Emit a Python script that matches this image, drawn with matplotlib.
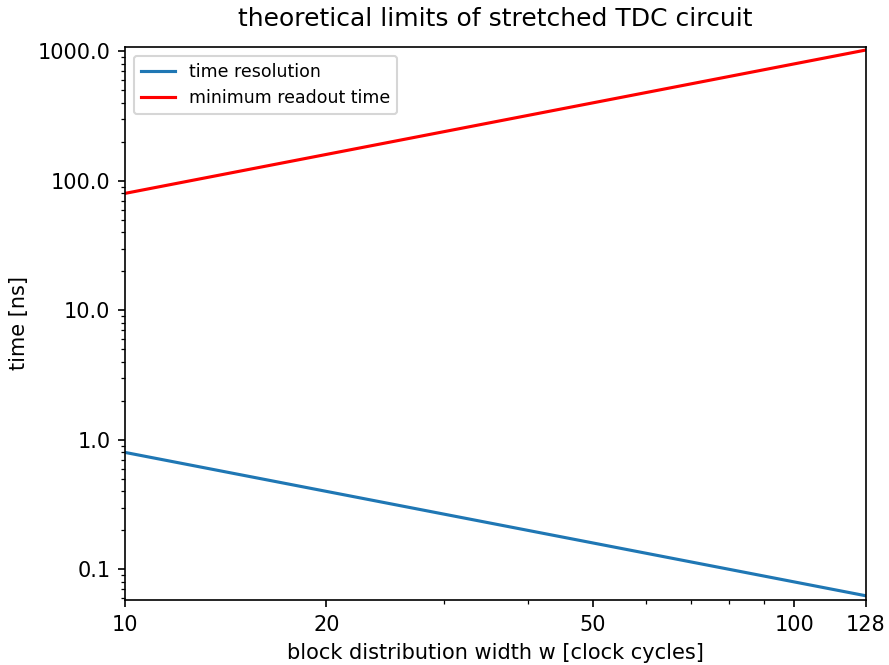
import matplotlib
matplotlib.use("Agg")
import matplotlib.pyplot as plt
from matplotlib.ticker import FixedLocator, FixedFormatter, FormatStrFormatter, NullFormatter

w = [10, 128]
time_resolution = [0.8, 0.0625]
readout_time = [80, 1024]
xticks = [10, 20, 50, 100, 128]
xticklabels = ["10", "20", "50", "100", "128"]

DPI = 150
fig = plt.figure(figsize=(889 / DPI, 665 / DPI), dpi=DPI)
ax = fig.add_axes([125 / 889, (665 - 600) / 665, 741 / 889, 553 / 665])
ax.plot(w, time_resolution, color="#1f77b4", label="time resolution")
ax.plot(w, readout_time, color="red", label="minimum readout time")
ax.set_xscale("log")
ax.set_yscale("log")
ax.set_xlim(10, 128)
ax.set_ylim(0.058, 1080)
ax.xaxis.set_major_locator(FixedLocator(xticks))
ax.xaxis.set_major_formatter(FixedFormatter(xticklabels))
ax.xaxis.set_minor_formatter(NullFormatter())
ax.yaxis.set_major_formatter(FormatStrFormatter("%.1f"))
ax.yaxis.set_minor_formatter(NullFormatter())
ax.set_xlabel("block distribution width w [clock cycles]")
ax.set_ylabel("time [ns]")
ax.set_title("theoretical limits of stretched TDC circuit", fontsize=12, pad=10)
ax.legend(loc="upper left", fontsize="small")
fig.savefig("out.png", dpi=DPI)
